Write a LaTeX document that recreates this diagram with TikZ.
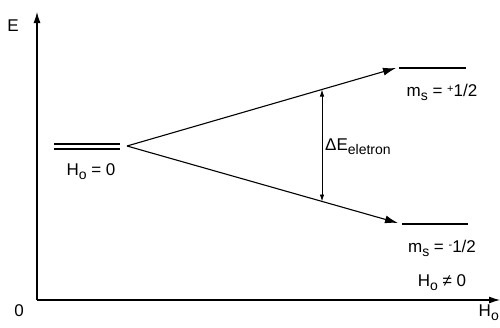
\documentclass[tikz,border=0pt]{standalone}
\usepackage{fontspec}
\setmainfont{Liberation Sans}
\usetikzlibrary{arrows.meta}
\newcommand\lowsub[1]{\raisebox{-0.45ex}{\fontsize{14}{14}\selectfont #1}}
\newcommand\upsgn[1]{\raisebox{0.35ex}{\fontsize{11}{11}\selectfont #1}}
\tikzset{
  lbl/.style={font=\fontsize{17}{17}\selectfont, inner sep=0pt},
  axis/.style={line width=1.1pt, -{Latex[length=11pt,width=7pt]}},
  split/.style={line width=1.1pt, -{Latex[length=13pt,width=8pt]}},
  level/.style={line width=1.1pt},
  gap/.style={line width=0.9pt, {Latex[length=7pt,width=4.5pt]}-{Latex[length=7pt,width=4.5pt]}}
}
\begin{document}
\begin{tikzpicture}[x=1pt,y=-1pt]
\useasboundingbox (0,0) rectangle (500,327);
% axes
\coordinate (O) at (37,300);
\coordinate (Ytop) at (37,12);
\coordinate (Xend) at (500,300);
\draw[axis] (O) -- (Ytop);
\draw[axis] (O) -- (Xend);
\node[lbl] (E) at (13,26) {E};
\node[lbl] (zero) at (19,311) {0};
\node[lbl, anchor=east] (Hax) at (499,313) {H\lowsub{o}};
% degenerate level
\coordinate (d1a) at (54,144);
\coordinate (d1b) at (120,144);
\coordinate (d2a) at (54,149);
\coordinate (d2b) at (120,149);
\draw[level] (d1a) -- (d1b);
\draw[level] (d2a) -- (d2b);
\node[lbl] (H0) at (91,172) {H\lowsub{o} = 0};
% splitting
\coordinate (S) at (127,146);
\coordinate (U) at (396,68);
\coordinate (L) at (398,223);
\draw[split] (S) -- (U);
\draw[split] (S) -- (L);
% upper and lower levels
\coordinate (u1) at (399,68);
\coordinate (u2) at (466,68);
\coordinate (l1) at (402,224);
\coordinate (l2) at (468,224);
\draw[level] (u1) -- (u2);
\draw[level] (l1) -- (l2);
\node[lbl] (mup) at (442,92) {m\lowsub{s} = \upsgn{+}1/2};
\node[lbl] (mdn) at (442,248) {m\lowsub{s} = \upsgn{-}1/2};
\node[lbl] (Hne) at (442,283) {H\lowsub{o} ≠ 0};
% energy gap
\coordinate (g1) at (322,89.5);
\coordinate (g2) at (322,201.5);
\draw[gap] (g1) -- (g2);
\node[lbl, anchor=west] (dE) at (325,147) {ΔE\lowsub{eletron}};
\end{tikzpicture}
\end{document}
